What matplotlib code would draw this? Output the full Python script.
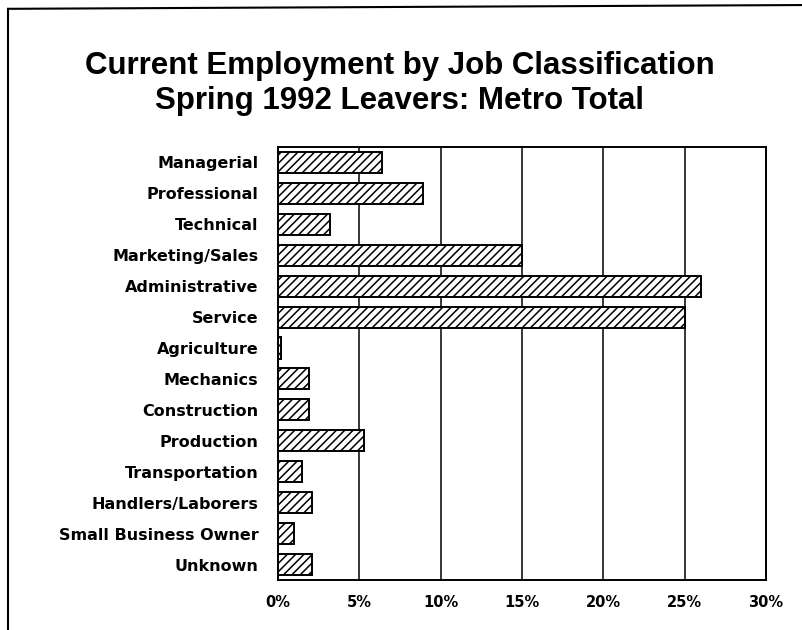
import matplotlib
matplotlib.use("Agg")
import matplotlib.pyplot as plt
from matplotlib.lines import Line2D

# Job classes, top to bottom, and share of leavers employed in each (%)
jobs = ["Managerial", "Professional", "Technical", "Marketing/Sales",
        "Administrative", "Service", "Agriculture", "Mechanics",
        "Construction", "Production", "Transportation", "Handlers/Laborers",
        "Small Business Owner", "Unknown"]
pct = [6.4, 8.9, 3.2, 15.0, 26.0, 25.0, 0.2, 1.9, 1.9, 5.3, 1.5, 2.1, 1.0, 2.1]
xticks = [0, 5, 10, 15, 20, 25, 30]
xlabels = ["0%", "5%", "10%", "15%", "20%", "25%", "30%"]

plt.rcParams["hatch.linewidth"] = 1.1

fig = plt.figure(figsize=(8.03, 6.30), dpi=100)
ax = fig.add_axes([0.3462, 0.0794, 0.6077, 0.6873])

ypos = list(range(len(jobs)))
ax.barh(ypos, pct, height=0.68, color="white", edgecolor="black",
        linewidth=1.4, hatch="////", zorder=3)

ax.set_xlim(0, 30)
ax.set_ylim(len(jobs) - 0.5, -0.5)
ax.set_xticks(xticks)
ax.set_xticklabels(xlabels, fontsize=10.5, fontweight="heavy", family="DejaVu Sans")
ax.set_yticks(ypos)
ax.set_yticklabels(jobs, fontsize=11.5, fontweight="heavy", family="DejaVu Sans")
ax.tick_params(axis="y", length=0, pad=14)
ax.tick_params(axis="x", length=0, pad=11)
ax.grid(axis="x", color="black", linewidth=1.1, zorder=0)
ax.set_axisbelow(True)
for s in ax.spines.values():
    s.set_linewidth(1.4)
    s.set_color("black")

fig.text(0.498, 0.896, "Current Employment by Job Classification",
         ha="center", va="center", fontsize=22.5, fontweight="bold",
         family="Liberation Sans")
fig.text(0.498, 0.840, "Spring 1992 Leavers: Metro Total",
         ha="center", va="center", fontsize=22.5, fontweight="bold",
         family="Liberation Sans")

# scanned page frame
fig.add_artist(Line2D([0.010, 0.010], [0.0, 0.986], color="black", lw=1.5))
fig.add_artist(Line2D([0.010, 1.0], [0.986, 0.992], color="black", lw=1.5))

fig.savefig("out.png", dpi=100)
